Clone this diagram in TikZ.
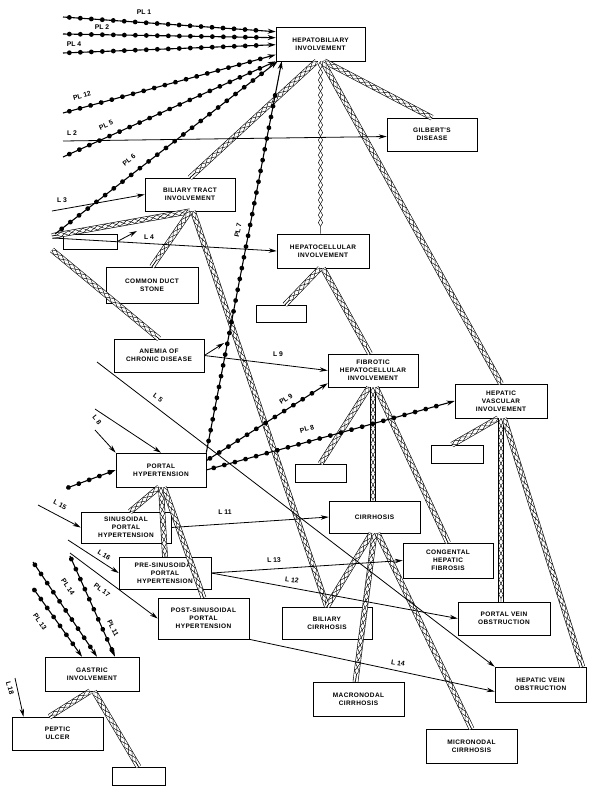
\documentclass[tikz,border=0pt]{standalone}
\usepackage{fontspec}
\setmainfont{Liberation Sans}
\newfontfamily\boxfont[LetterSpace=6]{Liberation Sans}
\usetikzlibrary{arrows.meta,decorations.pathmorphing,decorations.markings,calc}
\begin{document}
\begin{tikzpicture}[x=1pt,y=-1pt,
  box/.style={draw, line width=0.6pt, fill=white, inner sep=1pt, align=center, font=\boxfont\fontsize{6.5}{8}\selectfont\bfseries},
  sz/.style 2 args={minimum width=#1pt, minimum height=#2pt},
  hatch/.style={preaction={draw, line width=5.6pt}, preaction={draw, white, line width=4.4pt},
     postaction={draw, line width=0.45pt, decorate, decoration={zigzag, amplitude=2.2pt, segment length=15pt}},
     postaction={draw, line width=0.45pt, decorate, decoration={zigzag, amplitude=2.2pt, segment length=15pt, mirror}}},
  bead/.style={draw, line width=1.1pt, -{Stealth[length=8pt,width=5pt]},
     postaction={decorate, decoration={markings, mark=between positions 0.03 and 0.93 step 11pt with {\fill (0,0) circle (2.4pt);}}}},
  arr/.style={draw, line width=0.8pt, -{Stealth[length=8pt,width=4.5pt]}},
  lab/.style={font=\fontsize{6.8}{8}\selectfont\bfseries, inner sep=0pt}
]
\useasboundingbox (0,0) rectangle (600,796);

% boxes
\node[box, sz={89}{34}] (hb) at (320.5,44) {HEPATOBILIARY\\INVOLVEMENT};
\node[box, sz={90}{33}] (gil) at (432,134.5) {GILBERT'S\\DISEASE};
\node[box, sz={90}{33}] (bt) at (190,194.5) {BILIARY TRACT\\INVOLVEMENT};
\node[box, sz={54}{15}] (e1) at (90,241.5) {};
\node[box, sz={92}{36}] (cds) at (152,285) {COMMON DUCT\\STONE};
\node[box, sz={92}{34}] (hc) at (323,251) {HEPATOCELLULAR\\INVOLVEMENT};
\node[box, sz={50}{17}] (e2) at (281,313.5) {};
\node[box, sz={90}{33}] (an) at (159,355.5) {ANEMIA OF\\CHRONIC DISEASE};
\node[box, sz={90}{33}] (fib) at (373,370.5) {FIBROTIC\\HEPATOCELLULAR\\INVOLVEMENT};
\node[box, sz={92}{34}] (hv) at (501,401) {HEPATIC\\VASCULAR\\INVOLVEMENT};
\node[box, sz={51}{18}] (e3) at (320.5,473) {};
\node[box, sz={52}{18}] (e4) at (457,454) {};
\node[box, sz={90}{34}] (ph) at (161,470) {PORTAL\\HYPERTENSION};
\node[box, sz={90}{31}] (sin) at (126,527.5) {SINUSOIDAL\\PORTAL\\HYPERTENSION};
\node[box, sz={91}{32}] (cir) at (374.5,517) {CIRRHOSIS};
\node[box, sz={92}{32}] (pre) at (165,573) {PRE-SINUSOIDAL\\PORTAL\\HYPERTENSION};
\node[box, sz={90}{35}] (chf) at (448,560.5) {CONGENTAL\\HEPATIC\\FIBROSIS};
\node[box, sz={91}{41}] (post) at (203.5,618.5) {POST-SINUSOIDAL\\PORTAL\\HYPERTENSION};
\node[box, sz={90}{32}] (bc) at (327,623) {BILIARY\\CIRRHOSIS};
\node[box, sz={92}{33}] (pvo) at (504,618.5) {PORTAL VEIN\\OBSTRUCTION};
\node[box, sz={94}{34}] (gi) at (92,674) {GASTRIC\\INVOLVEMENT};
\node[box, sz={91}{35}] (hvo) at (540.5,684.5) {HEPATIC VEIN\\OBSTRUCTION};
\node[box, sz={91}{34}] (mac) at (358.5,699) {MACRONODAL\\CIRRHOSIS};
\node[box, sz={91}{33}] (pu) at (57.5,733.5) {PEPTIC\\ULCER};
\node[box, sz={53}{18}] (e5) at (138.5,776) {};
\node[box, sz={91}{34}] (mic) at (471.5,746) {MICRONODAL\\CIRRHOSIS};

% free ends
\coordinate (lft1) at (52,236);
\coordinate (lft2) at (52,250);
\coordinate (p1) at (63,17);
\coordinate (p2) at (63,34);
\coordinate (p4) at (63,53);
\coordinate (p12) at (63,113);
\coordinate (p5) at (63,157);
\coordinate (p6) at (55,234);
\coordinate (pph) at (67,488);
\coordinate (p14) at (33,562);
\coordinate (p13) at (33,588);
\coordinate (p11) at (70,556);
\coordinate (p17) at (70,553);
\coordinate (l2) at (63,141);
\coordinate (l3) at (52,211);
\coordinate (lhc) at (53,238);
\coordinate (l4) at (137,231);
\coordinate (l5) at (97,362);
\coordinate (lx) at (95,409);
\coordinate (l8) at (95,430);
\coordinate (lan) at (224,343);
\coordinate (l15) at (38,505);
\coordinate (l16) at (68,540);
\coordinate (l18) at (15,678);

% hatched tree links
\path[hatch] ([xshift=-4pt]hb.south) -- (bt.north);
\path[hatch] (hb.south) -- (hb.south |- hc.north);
\path[hatch] ([xshift=4pt]hb.south) -- (gil.north);
\path[hatch] ([xshift=2pt]hb.south) -- (hv.north);
\path[hatch] (bt.south) -- (lft1);
\path[hatch] (bt.south) -- (cds.north);
\path[hatch] ([xshift=3pt]bt.south) -- (bc.north);
\path[hatch] (lft2) -- (an.north);
\path[hatch] ([xshift=-3pt]hc.south) -- ([xshift=4pt]e2.north);
\path[hatch] (hc.south) -- ([xshift=-3pt]fib.north);
\path[hatch] ([xshift=-4pt]fib.south) -- (e3.north);
\path[hatch] (fib.south) -- (fib.south |- cir.north);
\path[hatch] ([xshift=3pt]fib.south) -- (chf.north);
\path[hatch] ([xshift=-3pt]hv.south) -- ([xshift=-5pt]e4.north);
\path[hatch] (hv.south) -- (hv.south |- pvo.north);
\path[hatch] ([xshift=3pt]hv.south) -- ([xshift=-4pt]hvo.north east);
\path[hatch] ([xshift=-3pt]cir.south) -- (bc.north);
\path[hatch] (cir.south) -- ([xshift=-3pt]mac.north);
\path[hatch] ([xshift=3pt]cir.south) -- (mic.north);
\path[hatch] ([xshift=-2pt]ph.south) -- ([xshift=4pt]sin.north);
\path[hatch] (ph.south) -- (pre.north);
\path[hatch] ([xshift=3pt]ph.south) -- (post.north);
\path[hatch] ([xshift=-2pt]gi.south) -- ([xshift=-8pt]pu.north);
\path[hatch] ([xshift=2pt]gi.south) -- (e5.north);

% beaded PL links
\path[bead] (p1) -- ([yshift=-5pt]hb.north west);
\path[bead] (p2) -- ([yshift=-11pt]hb.north west);
\path[bead] (p4) -- ([yshift=-18pt]hb.north west);
\path[bead] (p12) -- ([yshift=-28pt]hb.north west);
\path[bead] (p5) -- (hb.south west);
\path[bead] (p6) -- ([xshift=2pt]hb.south west);
\path[bead] (ph.north east) -- ([xshift=6pt]hb.south west);
\path[bead] ([yshift=-8pt]ph.north east) -- ([yshift=4pt]fib.south west);
\path[bead] (ph.east) -- (hv.west);
\path[bead] (pph) -- (ph.west);
\path[bead] (p14) -- ([xshift=5pt]gi.north);
\path[bead] (p13) -- ([xshift=-10pt]gi.north);
\path[bead] (p11) -- ([xshift=23pt]gi.north);

% plain L links
\path[arr] (l2) -- ([yshift=-2pt]gil.west);
\path[arr] (l3) -- (bt.west);
\path[arr] (lhc) -- (hc.west);
\path[arr] (e1.east) -- (l4);
\path[arr] (l5) -- (hvo.north west);
\path[arr] (lx) -- (ph.north);
\path[arr] (l8) -- (ph.north west);
\path[arr] (an.east) -- (fib.west);
\path[arr] (an.east) -- (lan);
\path[arr] (sin.east) -- (cir.west);
\path[arr] (pre.east) -- (chf.west);
\path[arr] (pre.east) -- (pvo.west);
\path[arr] (post.south east) -- ([yshift=-7pt]hvo.west);
\path[arr] (l15) -- (sin.west);
\path[arr] (l16) -- (pre.west);
\path[arr] (p17) -- (post.west);
\path[arr] (l18) -- ([xshift=-34pt]pu.north);

% labels
\node[lab] (tpl1) at (144,12) {PL 1};
\node[lab] (tpl2) at (102,27) {PL 2};
\node[lab] (tpl4) at (74,44) {PL 4};
\node[lab, rotate=15] (tpl12) at (82,96) {PL 12};
\node[lab, rotate=24] (tpl5) at (106,125) {PL 5};
\node[lab, rotate=38] (tpl6) at (129,160) {PL 6};
\node[lab, rotate=79] (tpl7) at (238,230) {PL 7};
\node[lab] (tl2) at (72,133) {L 2};
\node[lab] (tl3) at (62,200) {L 3};
\node[lab] (tl4) at (149,237) {L 4};
\node[lab, rotate=-37] (tl5) at (158,398) {L 5};
\node[lab, rotate=-50] (tl8) at (97,420) {L 8};
\node[lab] (tl9) at (278,354) {L 9};
\node[lab, rotate=34] (tpl9) at (286,399) {PL 9};
\node[lab, rotate=15] (tpl8) at (307,429) {PL 8};
\node[lab] (tl11) at (225,512) {L 11};
\node[lab, rotate=3] (tl13) at (274,560) {L 13};
\node[lab, rotate=-8] (tl12) at (292,580) {L 12};
\node[lab, rotate=-10] (tl14) at (398,663) {L 14};
\node[lab, rotate=-27] (tl15) at (60,505) {L 15};
\node[lab, rotate=-33] (tl16) at (104,555) {L 16};
\node[lab, rotate=-36] (tpl17) at (102,590) {PL 17};
\node[lab, rotate=-56] (tpl14) at (68,587) {PL 14};
\node[lab, rotate=-55] (tpl13) at (40,622) {PL 13};
\node[lab, rotate=-64] (tpl11) at (113,628) {PL 11};
\node[lab, rotate=-75] (tl18) at (10,688) {L 18};
\end{tikzpicture}
\end{document}
